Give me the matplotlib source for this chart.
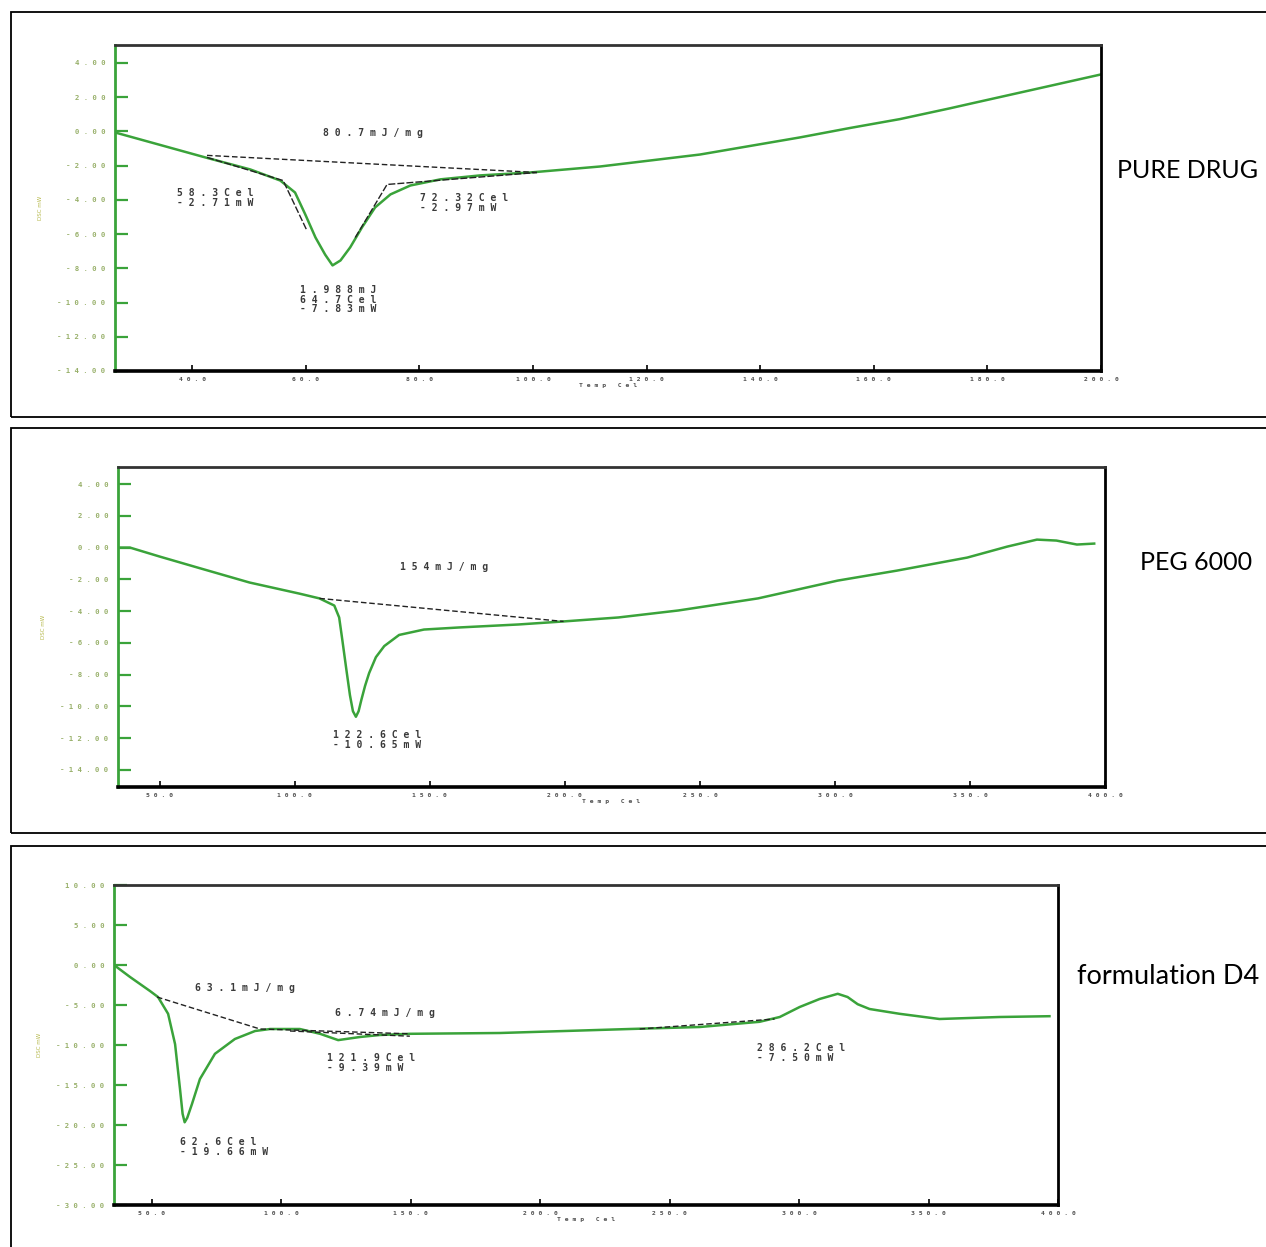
import numpy as np
import matplotlib.pyplot as plt
from matplotlib.patches import Rectangle

# --- pure drug trace ---
drug_t = [26.4, 42.3, 50.2, 55.5, 58.1, 59.9, 61.7, 63.4, 64.7, 66.1, 67.8, 69.9,
          72.2, 74.9, 78.4, 83.7, 90.7, 99.5, 111.8, 120.6, 129.4, 138.2, 147.0,
          155.8, 164.6, 173.4, 177.0, 187.5, 200.0]
drug_q = [-0.06, -1.52, -2.22, -2.87, -3.57, -4.85, -6.2, -7.2, -7.83, -7.54, -6.78, -5.6,
          -4.44, -3.68, -3.16, -2.8, -2.57, -2.4, -2.05, -1.7, -1.35, -0.85, -0.35,
          0.2, 0.72, 1.35, 1.62, 2.4, 3.33]
drug_base_t = [42.6, 100.7]
drug_base_q = [-1.4, -2.4]
drug_tan_left_t = [42.6, 56.0, 60.2]
drug_tan_left_q = [-1.52, -2.87, -5.8]
drug_tan_right_t = [68.7, 74.3, 100.7]
drug_tan_right_q = [-6.2, -3.1, -2.4]

# --- PEG 6000 trace ---
peg_t = [34.5, 38.9, 50.0, 64.8, 83.2, 101.7, 109.1, 114.6, 116.4, 117.6, 119.0, 120.4,
         121.5, 122.6, 123.6, 124.6, 126.0, 127.5, 130.0, 133.1, 138.6, 147.8, 160.7,
         182.9, 199.5, 219.8, 242.0, 271.5, 301.0, 323.0, 349.0, 363.8, 374.8, 382.0,
         389.6, 396.0]
peg_q = [0.0, 0.0, -0.57, -1.3, -2.2, -2.9, -3.2, -3.65, -4.4, -5.85, -7.6, -9.3,
         -10.3, -10.65, -10.3, -9.6, -8.7, -7.9, -6.9, -6.2, -5.5, -5.16, -5.03,
         -4.84, -4.65, -4.4, -3.96, -3.2, -2.08, -1.45, -0.63, 0.06, 0.5, 0.44,
         0.19, 0.25]
peg_base_t = [109.1, 199.5]
peg_base_q = [-3.2, -4.65]

# --- formulation D4 trace ---
d4_t = [35.3, 41.5, 49.2, 52.3, 56.2, 58.9, 60.8, 61.8, 62.6, 63.6, 65.4, 68.5, 74.3,
        82.0, 89.8, 95.6, 107.1, 114.9, 121.9, 130.3, 138.0, 149.6, 184.4, 234.6,
        261.6, 284.7, 292.5, 300.2, 307.9, 314.9, 318.7, 322.6, 327.2, 338.8, 354.2,
        377.4, 396.7]
d4_q = [0.0, -1.5, -3.25, -4.0, -6.1, -9.9, -15.5, -18.6, -19.66, -19.1, -17.4, -14.25,
        -11.1, -9.25, -8.25, -8.0, -8.0, -8.6, -9.39, -9.0, -8.75, -8.6, -8.5, -8.0,
        -7.75, -7.1, -6.5, -5.25, -4.25, -3.6, -4.0, -4.9, -5.5, -6.1, -6.75, -6.5,
        -6.4]
d4_base1_t = [51.9, 91.7, 149.6]
d4_base1_q = [-4.0, -8.0, -8.6]
d4_base2_t = [103.3, 149.6]
d4_base2_q = [-8.25, -8.9]
d4_base3_t = [238.4, 290.5]
d4_base3_q = [-8.0, -6.75]

GREEN = '#3aa33a'
W, H = 1266, 1247


def spaced(s):
    return ' '.join(s)


def setup(ax, xlim, ylim, xticks, yticks):
    ax.set_xlim(*xlim)
    ax.set_ylim(*ylim)
    ax.set_xticks(xticks)
    ax.set_xticklabels([spaced('%.1f' % v) for v in xticks], fontsize=4.6,
                       color='#505050', family='DejaVu Sans Mono', fontweight='bold')
    ax.set_yticks(yticks)
    ax.set_yticklabels([spaced('%.2f' % v) for v in yticks], fontsize=5.2,
                       color='#98b06a', family='DejaVu Sans Mono', fontweight='bold')
    ax.tick_params(axis='y', direction='in', length=9, width=1.6, color=GREEN, pad=7)
    ax.tick_params(axis='x', direction='in', length=4, width=1.2, color='black', pad=4)
    ax.spines['left'].set_color(GREEN)
    ax.spines['left'].set_linewidth(2)
    ax.spines['bottom'].set_linewidth(2.6)
    ax.spines['top'].set_linewidth(2)
    ax.spines['top'].set_color('#333333')
    ax.spines['right'].set_linewidth(2)
    ax.set_xlabel(spaced('Temp Cel'), fontsize=4.6, color='#505050', labelpad=1,
                  family='DejaVu Sans Mono', fontweight='bold')
    ax.set_ylabel('DSC mW', fontsize=4, color='#b5b84a', labelpad=10)


def note(px, py, lines):
    # small instrument annotations, placed in figure pixels (left, top)
    fig.text(px / W, 1 - py / H, '\n'.join(spaced(l) for l in lines), fontsize=7,
             fontweight='bold', color='#3a3a3a', va='top', ha='left',
             linespacing=0.95, family='DejaVu Sans Mono')


fig = plt.figure(figsize=(W / 100, H / 100), dpi=100)

# outer frames round each panel
for top, bot in [(12, 417), (428, 833), (846, 1260)]:
    fig.add_artist(Rectangle((11 / W, 1 - bot / H), 1.2, (bot - top) / H,
                             transform=fig.transFigure, fill=False, ec='black', lw=1.3))

# pure drug
ax1 = fig.add_axes([115 / W, 1 - 371 / H, (1101 - 115) / W, (371 - 45) / H])
ax1.plot(drug_t, drug_q, color=GREEN, lw=1.8)
ax1.plot(drug_base_t, drug_base_q, color='#222222', lw=1, ls=(0, (4, 2)))
ax1.plot(drug_tan_left_t, drug_tan_left_q, color='#222222', lw=1, ls=(0, (5, 1.5)))
ax1.plot(drug_tan_right_t, drug_tan_right_q, color='#222222', lw=1, ls=(0, (5, 1.5)))
setup(ax1, (26.4, 200), (-14, 5.05), np.arange(40, 201, 20), np.arange(-14, 5, 2))
note(323, 128, ['80.7mJ/mg'])
note(177, 188, ['58.3Cel', '-2.71mW'])
note(420, 193, ['72.32Cel', '-2.97mW'])
note(300, 285, ['1.988mJ', '64.7Cel', '-7.83mW'])

# PEG 6000
ax2 = fig.add_axes([118 / W, 1 - 787 / H, (1105 - 118) / W, (787 - 467) / H])
ax2.plot(peg_t, peg_q, color=GREEN, lw=1.8)
ax2.plot(peg_base_t, peg_base_q, color='#222222', lw=1, ls=(0, (4, 2)))
setup(ax2, (34.5, 400), (-15.07, 5.07), np.arange(50, 401, 50), np.arange(-14, 5, 2))
note(400, 562, ['154mJ/mg'])
note(333, 730, ['122.6Cel', '-10.65mW'])

# formulation D4
ax3 = fig.add_axes([114 / W, 1 - 1205 / H, (1058 - 114) / W, (1205 - 885) / H])
ax3.plot(d4_t, d4_q, color=GREEN, lw=1.8)
for bt, bq in [(d4_base1_t, d4_base1_q), (d4_base2_t, d4_base2_q), (d4_base3_t, d4_base3_q)]:
    ax3.plot(bt, bq, color='#222222', lw=1, ls=(0, (4, 2)))
setup(ax3, (35.3, 400), (-30, 10), np.arange(50, 401, 50), np.arange(-30, 11, 5))
note(195, 983, ['63.1mJ/mg'])
note(335, 1008, ['6.74mJ/mg'])
note(327, 1053, ['121.9Cel', '-9.39mW'])
note(180, 1137, ['62.6Cel', '-19.66mW'])
note(757, 1043, ['286.2Cel', '-7.50mW'])

# sample names on the right
fig.text(1117 / W, 1 - 170 / H, 'PURE DRUG', fontsize=18, family='Lato', va='center')
fig.text(1140 / W, 1 - 562 / H, 'PEG 6000', fontsize=18, family='Lato', va='center')
fig.text(1077 / W, 1 - 976 / H, 'formulation D4', fontsize=19.5, family='Lato',
         va='center')

fig.savefig('out.png', dpi=100)
